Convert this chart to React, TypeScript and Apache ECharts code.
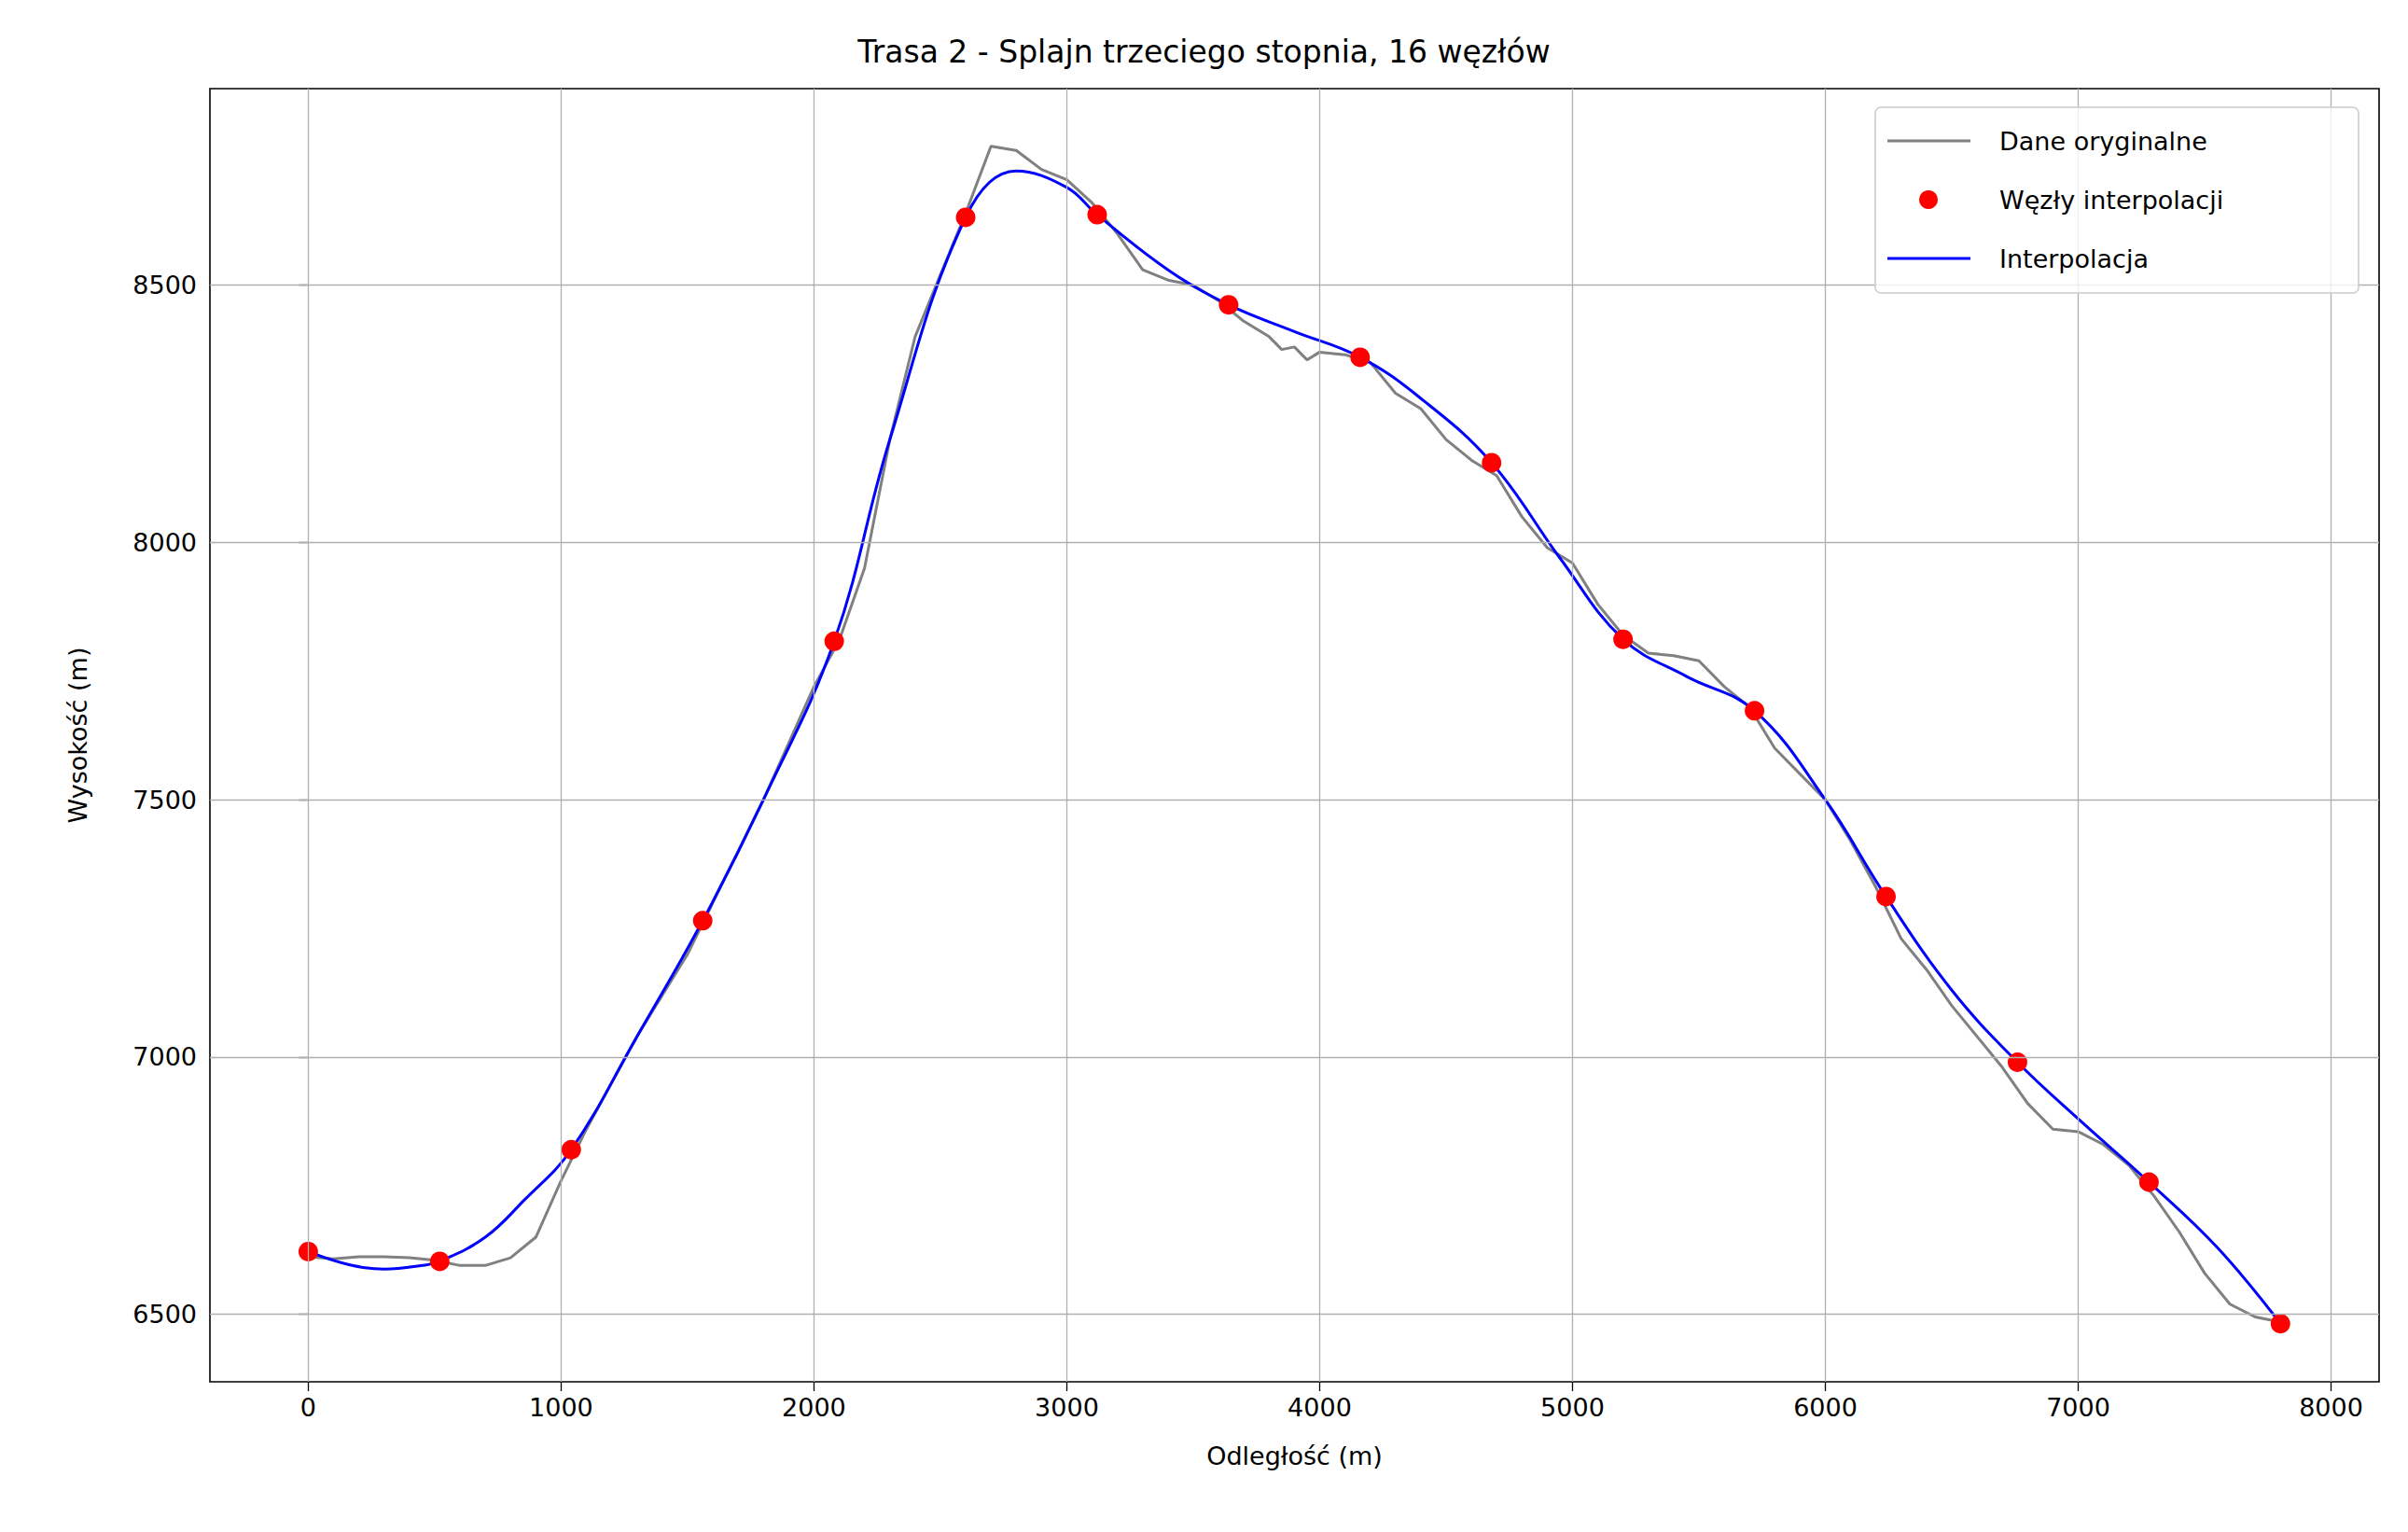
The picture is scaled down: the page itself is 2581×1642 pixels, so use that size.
import { useRef, useEffect } from "react";
import * as echarts from "echarts";

const nodeX = [0, 520, 1040, 1560, 2080, 2600, 3120, 3640, 4160, 4680, 5200, 5720, 6240, 6760, 7280, 7800];
const nodeY = [6622, 6603, 6820, 7265, 7808, 8632, 8637, 8462, 8360, 8155, 7812, 7673, 7312, 6990, 6757, 6482];

// blue curve
const splineX = [0, 150, 300, 450, 520, 700, 850, 1040, 1300, 1560, 1800, 2080, 2300, 2600, 2800, 3000, 3120, 3400, 3640, 3900, 4160, 4400, 4680, 4950, 5200, 5450, 5720, 6000, 6240, 6500, 6760, 7000, 7280, 7550, 7800];
const splineY = [6622, 6598, 6588, 6595, 6603, 6650, 6720, 6820, 7040, 7265, 7500, 7808, 8200, 8632, 8722, 8690, 8637, 8530, 8462, 8410, 8360, 8280, 8155, 7970, 7812, 7740, 7673, 7500, 7312, 7130, 6990, 6880, 6757, 6630, 6482];

const origX = [0, 100, 200, 300, 400, 500, 600, 700, 800, 900, 1000, 1100, 1200, 1300, 1400, 1500, 1600, 1700, 1800, 1900, 2000, 2100, 2200, 2300, 2400, 2500, 2600, 2700, 2800, 2900, 3000, 3100, 3200, 3300, 3400, 3500, 3600, 3700, 3800, 3850, 3900, 3950, 4000, 4100, 4200, 4300, 4400, 4500, 4600, 4700, 4800, 4900, 5000, 5100, 5200, 5300, 5400, 5500, 5600, 5700, 5800, 5900, 6000, 6100, 6200, 6300, 6400, 6500, 6600, 6700, 6800, 6900, 7000, 7100, 7200, 7300, 7400, 7500, 7600, 7700, 7800];
const origY = [6612, 6608, 6612, 6612, 6610, 6605, 6595, 6595, 6610, 6650, 6760, 6860, 6950, 7040, 7120, 7200, 7300, 7400, 7500, 7610, 7720, 7810, 7950, 8200, 8400, 8520, 8640, 8770, 8762, 8725, 8705, 8660, 8600, 8530, 8510, 8500, 8470, 8430, 8400, 8375, 8380, 8355, 8370, 8365, 8350, 8290, 8260, 8200, 8160, 8130, 8050, 7990, 7960, 7880, 7820, 7785, 7780, 7770, 7720, 7680, 7600, 7550, 7500, 7420, 7330, 7230, 7170, 7100, 7040, 6980, 6910, 6860, 6855, 6830, 6790, 6730, 6660, 6580, 6520, 6495, 6485];

const xTicks = [0, 1000, 2000, 3000, 4000, 5000, 6000, 7000, 8000];
const yTicks = [6500, 7000, 7500, 8000, 8500];

const FONT = "DejaVu Sans";
const GRID = { left: 225, top: 95, right: 31, bottom: 161 };

export default function App() {
  const ref = useRef<HTMLDivElement>(null);

  useEffect(() => {
    document.body.style.margin = "0";
    if (!ref.current) return;
    const chart = echarts.init(ref.current, undefined, { renderer: "svg" });
    const zip = (xs: number[], ys: number[]) => xs.map((x, i) => [x, ys[i]]);
    const gridLine = { color: "#b0b0b0", width: 1.3, type: "solid" as const };
    const tickLabel = { color: "#000", fontSize: 27, fontFamily: FONT, margin: 14, formatter: (v: number) => String(v) };

    const lx = 2023;
    const rows = [151, 214, 277];
    chart.setOption({
      animation: false,
      backgroundColor: "#fff",
      textStyle: { fontFamily: FONT },
      title: {
        text: "Trasa 2 - Splajn trzeciego stopnia, 16 węzłów",
        left: "center",
        top: 34,
        textStyle: { fontFamily: FONT, fontSize: 33, fontWeight: "normal", color: "#000" },
      },
      grid: { ...GRID, show: true, borderColor: "#000", borderWidth: 1.6, backgroundColor: "transparent" },
      xAxis: {
        type: "value",
        min: -389,
        max: 8190,
        name: "Odległość (m)",
        nameLocation: "middle",
        nameGap: 66,
        nameTextStyle: { fontFamily: FONT, fontSize: 27, color: "#000" },
        axisLine: { show: false },
        splitLine: { show: false },
        axisTick: { show: true, customValues: xTicks, length: 10, lineStyle: { color: "#000", width: 1.3 } },
        axisLabel: { ...tickLabel, customValues: xTicks },
      },
      yAxis: {
        type: "value",
        min: 6369,
        max: 8882,
        name: "Wysokość (m)",
        nameLocation: "middle",
        nameGap: 128,
        nameTextStyle: { fontFamily: FONT, fontSize: 27, color: "#000" },
        axisLine: { show: false },
        splitLine: { show: false },
        axisTick: { show: true, customValues: yTicks, length: 10, lineStyle: { color: "#000", width: 1.3 } },
        axisLabel: { ...tickLabel, customValues: yTicks },
      },
      series: [
        {
          type: "line",
          z: 1,
          silent: true,
          data: [[0, 7000]],
          symbol: "none",
          lineStyle: { opacity: 0 },
          markLine: {
            silent: true,
            symbol: "none",
            label: { show: false },
            lineStyle: gridLine,
            data: [...xTicks.map((v) => ({ xAxis: v })), ...yTicks.map((v) => ({ yAxis: v }))],
          },
        },
        {
          name: "Dane oryginalne",
          type: "line",
          z: 2,
          data: zip(origX, origY),
          symbol: "none",
          lineStyle: { color: "#808080", width: 3 },
        },
        {
          name: "Interpolacja",
          type: "line",
          z: 3,
          data: zip(splineX, splineY),
          smooth: 0.4,
          symbol: "none",
          lineStyle: { color: "#0000ff", width: 3 },
        },
        {
          name: "Węzły interpolacji",
          type: "scatter",
          z: 4,
          data: zip(nodeX, nodeY),
          symbolSize: 21,
          itemStyle: { color: "#ff0000", opacity: 1 },
        },
      ],
      graphic: [
        {
          type: "rect",
          shape: { x: 2010, y: 115, width: 518, height: 199, r: 6 },
          style: { fill: "rgba(255,255,255,0.8)", stroke: "#cccccc", lineWidth: 1.6 },
          z: 100,
        },
        { type: "line", shape: { x1: lx, y1: rows[0], x2: lx + 89, y2: rows[0] }, style: { stroke: "#808080", lineWidth: 3 }, z: 101 },
        { type: "circle", shape: { cx: lx + 44, cy: rows[1], r: 10 }, style: { fill: "#ff0000" }, z: 101 },
        { type: "line", shape: { x1: lx, y1: rows[2], x2: lx + 89, y2: rows[2] }, style: { stroke: "#0000ff", lineWidth: 3 }, z: 101 },
        ...["Dane oryginalne", "Węzły interpolacji", "Interpolacja"].map((t, i) => ({
          type: "text",
          x: 2143,
          y: rows[i],
          z: 101,
          style: { text: t, fontFamily: FONT, fontSize: 27, fill: "#000", textVerticalAlign: "middle" },
        })),
      ],
    });
    return () => chart.dispose();
  }, []);

  return <div ref={ref} style={{ width: 2581, height: 1642 }} />;
}
